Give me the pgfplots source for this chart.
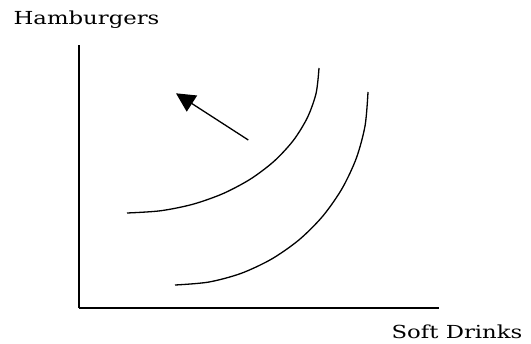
\documentclass[border=0pt]{standalone}
\usepackage{pgfplots}
\pgfplotsset{compat=1.18}
\usepackage{fontspec}
\setmainfont{DejaVu Serif}
\newfontfamily\lab[FakeStretch=1.27]{DejaVu Serif}
\usetikzlibrary{arrows.meta}
\begin{document}
\begin{tikzpicture}
\begin{axis}[
  scale only axis,
  width=360bp, height=263bp,
  xmin=79, xmax=439, ymin=35, ymax=298,
  axis lines=left,
  axis line style={-, line width=1.5bp},
  ticks=none,
  clip=false,
]
% indifference curves (upper and lower)
\addplot[smooth, line width=1.3bp, black] coordinates {
 (127,130) (160.3,132.2) (192.7,138.7) (223,149.4) (250.4,163.9)
 (274.1,181.8) (293.3,202.5) (307.4,225.4) (316.1,249.8) (319,275)};
\addplot[smooth, line width=1.3bp, black] coordinates {
 (175,58) (208.5,60.9) (241,69.6) (271.5,83.9) (299.1,103.2)
 (322.8,126.9) (342.1,154.5) (356.4,185) (365.1,217.5) (368,251)};
% arrow
\addplot[line width=1.3bp, black, -{Triangle[length=19bp,width=19bp]}] coordinates {(248.3,203) (176,249.7)};
\node[font=\lab\fontsize{18}{21}\selectfont, anchor=base] at (axis cs:86.5,9) {\vphantom{H}};
\node[font=\lab\fontsize{18}{21}\selectfont] at (axis cs:86.5,323) {Hamburgers};
\node[font=\lab\fontsize{18}{21}\selectfont, anchor=base] at (axis cs:457,5) {Soft Drinks};
\coordinate (bl) at (axis cs:0,0);
\coordinate (tr) at (axis cs:531,343);
\end{axis}
\path[use as bounding box] (bl) rectangle (tr);
\end{tikzpicture}
\end{document}
